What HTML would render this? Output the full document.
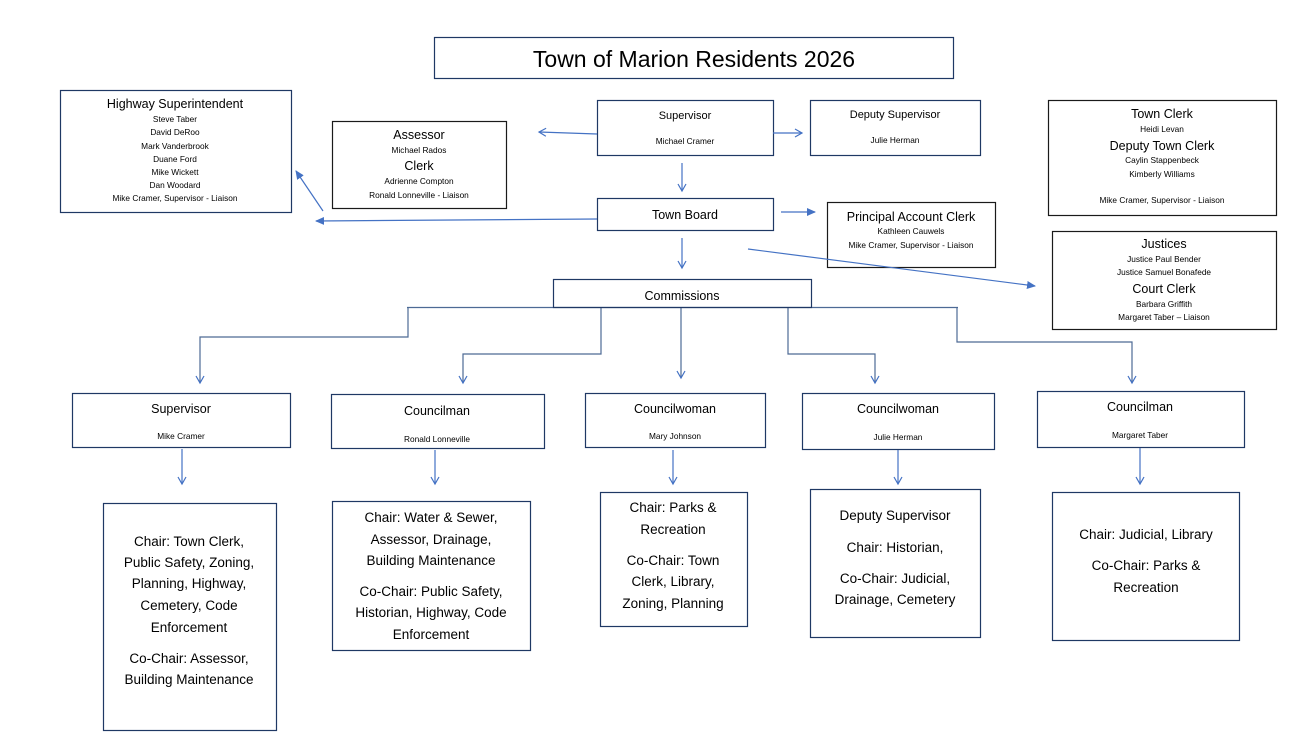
<!DOCTYPE html>
<html><head><meta charset="utf-8"><style>
html,body{margin:0;padding:0;background:#fff;}
svg{display:block;font-family:"Liberation Sans",sans-serif;}
</style></head><body>
<svg width="1312" height="751" viewBox="0 0 1312 751" xmlns="http://www.w3.org/2000/svg">
<defs>
<marker id="a" markerWidth="10" markerHeight="10" refX="8" refY="5" orient="auto" markerUnits="userSpaceOnUse"><path d="M1,1 L8,5 L1,9" fill="none" stroke="#4472c4" stroke-width="1.2"/></marker>
<marker id="f" markerWidth="10" markerHeight="10" refX="8" refY="5" orient="auto" markerUnits="userSpaceOnUse"><path d="M0,1 L9,5 L0,9 z" fill="#4472c4"/></marker>
</defs>
<g fill="none" stroke="#1a1a1a" stroke-width="1.2">
<rect x="434.5" y="37.5" width="519" height="41" stroke="#1f3864"/>
<rect x="60.5" y="90.5" width="231" height="122" stroke="#1f3864"/>
<rect x="332.5" y="121.5" width="174" height="87"/>
<rect x="597.5" y="100.5" width="176" height="55" stroke="#1f3864"/>
<rect x="810.5" y="100.5" width="170" height="55" stroke="#1f3864"/>
<rect x="1048.5" y="100.5" width="228" height="115"/>
<rect x="597.5" y="198.5" width="176" height="32" stroke="#1f3864"/>
<rect x="827.5" y="202.5" width="168" height="65"/>
<rect x="1052.5" y="231.5" width="224" height="98"/>
</g>
<g fill="none" stroke="#1f3864" stroke-width="1.2">
<rect x="72.5" y="393.5" width="218" height="54"/>
<rect x="331.5" y="394.5" width="213" height="54"/>
<rect x="585.5" y="393.5" width="180" height="54"/>
<rect x="802.5" y="393.5" width="192" height="56"/>
<rect x="1037.5" y="391.5" width="207" height="56"/>
<rect x="103.5" y="503.5" width="173" height="227"/>
<rect x="332.5" y="501.5" width="198" height="149"/>
<rect x="600.5" y="492.5" width="147" height="134"/>
<rect x="810.5" y="489.5" width="170" height="148"/>
<rect x="1052.5" y="492.5" width="187" height="148"/>
</g>
<g fill="none" stroke="#4472c4" stroke-width="1.2">
<line x1="597" y1="134" x2="539" y2="132" marker-end="url(#a)"/>
<line x1="773" y1="133" x2="802" y2="133" marker-end="url(#a)"/>
<line x1="682" y1="163" x2="682" y2="191" marker-end="url(#a)"/>
<line x1="781" y1="212" x2="815" y2="212" marker-end="url(#f)"/>
<line x1="597" y1="219" x2="316" y2="221" marker-end="url(#f)"/>
<line x1="323" y1="211" x2="296" y2="171" marker-end="url(#f)"/>
<line x1="682" y1="238" x2="682" y2="268" marker-end="url(#a)"/>
<line x1="748" y1="249" x2="1035" y2="286" marker-end="url(#f)"/>
</g>
<g fill="none" stroke="#4d6a95" stroke-width="1.2">
<line x1="407" y1="307.5" x2="958" y2="307.5"/>
<polyline points="408,307 408,337 200,337 200,383" marker-end="url(#a)"/>
<polyline points="601,307 601,354 463,354 463,383" marker-end="url(#a)"/>
<line x1="681" y1="307" x2="681" y2="378" marker-end="url(#a)"/>
<polyline points="788,307 788,354 875,354 875,383" marker-end="url(#a)"/>
<polyline points="957,307 957,342 1132,342 1132,383" marker-end="url(#a)"/>
</g>
<rect x="553.5" y="279.5" width="258" height="28" fill="none" stroke="#1f3864" stroke-width="1.2"/>
<g fill="none" stroke="#4472c4" stroke-width="1.2">
<line x1="182" y1="449" x2="182" y2="484" marker-end="url(#a)"/>
<line x1="435" y1="450" x2="435" y2="484" marker-end="url(#a)"/>
<line x1="673" y1="450" x2="673" y2="484" marker-end="url(#a)"/>
<line x1="898" y1="450" x2="898" y2="484" marker-end="url(#a)"/>
<line x1="1140" y1="448" x2="1140" y2="484" marker-end="url(#a)"/>
</g>
<g fill="#000" text-anchor="middle">
<text x="694" y="67" font-size="23">Town of Marion Residents 2026</text>
<g font-size="12.5"><text x="175" y="108">Highway Superintendent</text><text x="419" y="139">Assessor</text><text x="419" y="170">Clerk</text>
<text x="1162" y="118">Town Clerk</text><text x="1162" y="150">Deputy Town Clerk</text>
<text x="685" y="219">Town Board</text><text x="911" y="221">Principal Account Clerk</text>
<text x="1164" y="248">Justices</text><text x="1164" y="293">Court Clerk</text><text x="682" y="300">Commissions</text></g>
<g font-size="11"><text x="685" y="119">Supervisor</text><text x="895" y="118">Deputy Supervisor</text></g>
<g font-size="8.3">
<text x="175" y="122">Steve Taber</text><text x="175" y="135">David DeRoo</text><text x="175" y="149">Mark Vanderbrook</text><text x="175" y="162">Duane Ford</text><text x="175" y="175">Mike Wickett</text><text x="175" y="188">Dan Woodard</text><text x="175" y="201">Mike Cramer, Supervisor - Liaison</text>
<text x="419" y="153">Michael Rados</text><text x="419" y="184">Adrienne Compton</text><text x="419" y="198">Ronald Lonneville - Liaison</text>
<text x="685" y="144">Michael Cramer</text><text x="895" y="143">Julie Herman</text>
<text x="1162" y="132">Heidi Levan</text><text x="1162" y="163">Caylin Stappenbeck</text><text x="1162" y="177">Kimberly Williams</text><text x="1162" y="203">Mike Cramer, Supervisor - Liaison</text>
<text x="911" y="234">Kathleen Cauwels</text><text x="911" y="248">Mike Cramer, Supervisor - Liaison</text>
<text x="1164" y="262">Justice Paul Bender</text><text x="1164" y="275">Justice Samuel Bonafede</text><text x="1164" y="307">Barbara Griffith</text><text x="1164" y="320">Margaret Taber – Liaison</text>
<text x="181" y="439">Mike Cramer</text><text x="437" y="442">Ronald Lonneville</text><text x="675" y="439">Mary Johnson</text><text x="898" y="440">Julie Herman</text><text x="1140" y="438">Margaret Taber</text>
</g>
<g font-size="12.5"><text x="181" y="413">Supervisor</text><text x="437" y="415">Councilman</text><text x="675" y="413">Councilwoman</text><text x="898" y="413">Councilwoman</text><text x="1140" y="411">Councilman</text></g>
<g font-size="13.5">
<text x="189" y="546">Chair: Town Clerk,</text><text x="189" y="567">Public Safety, Zoning,</text><text x="189" y="588">Planning, Highway,</text><text x="189" y="610">Cemetery, Code</text><text x="189" y="632">Enforcement</text><text x="189" y="663">Co-Chair: Assessor,</text><text x="189" y="684">Building Maintenance</text>
<text x="431" y="522">Chair: Water &amp; Sewer,</text><text x="431" y="544">Assessor, Drainage,</text><text x="431" y="565">Building Maintenance</text><text x="431" y="596">Co-Chair: Public Safety,</text><text x="431" y="617">Historian, Highway, Code</text><text x="431" y="639">Enforcement</text>
<text x="673" y="512">Chair: Parks &amp;</text><text x="673" y="534">Recreation</text><text x="673" y="565">Co-Chair: Town</text><text x="673" y="586">Clerk, Library,</text><text x="673" y="608">Zoning, Planning</text>
<text x="895" y="520">Deputy Supervisor</text><text x="895" y="552">Chair: Historian,</text><text x="895" y="583">Co-Chair: Judicial,</text><text x="895" y="604">Drainage, Cemetery</text>
<text x="1146" y="539">Chair: Judicial, Library</text><text x="1146" y="570">Co-Chair: Parks &amp;</text><text x="1146" y="592">Recreation</text>
</g>
</g>
</svg>
</body></html>
